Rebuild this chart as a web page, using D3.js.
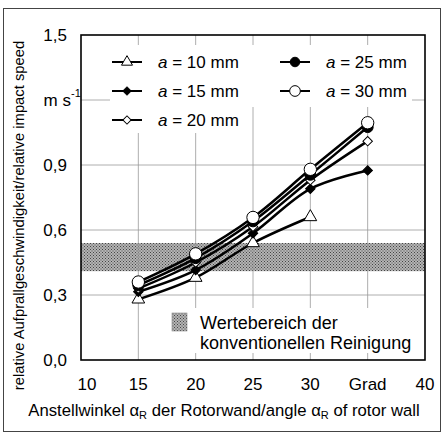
<!DOCTYPE html>
<html>
<head>
<meta charset="utf-8">
<script src="https://cdn.jsdelivr.net/npm/d3@7"></script>
<style>
body { margin: 0; background: #fff; }
text { font-family: "Liberation Sans", Arial, Helvetica, sans-serif; fill: #000; }
</style>
</head>
<body>
<script>
// data
const angles = [15, 20, 25, 30, 35];
const a10 = [0.28, 0.38, 0.54, 0.66];
const a15 = [0.315, 0.415, 0.585, 0.79, 0.875];
const a20 = [0.33, 0.45, 0.615, 0.83, 1.01];
const a25 = [0.345, 0.47, 0.64, 0.855, 1.075];
const a30 = [0.36, 0.49, 0.658, 0.88, 1.095];
const seriesNames = ["10 mm", "15 mm", "20 mm", "25 mm", "30 mm"];
const xTicks = [10, 15, 20, 25, 30, 35, 40];
const xTickLabels = ["10", "15", "20", "25", "30", "Grad", "40"];
const yTicks = [0, 0.3, 0.6, 0.9, 1.2, 1.5];
const yTickLabels = ["0,0", "0,3", "0,6", "0,9", "m s", "1,5"];
const band = [0.41, 0.54];

const W = 445, H = 435;
const m = { left: 81, right: 20, top: 35, bottom: 75 };

const svg = d3.select('body')
    .append('svg')
    .attr('width', W)
    .attr('height', H);

const x = d3.scaleLinear().domain([10, 40]).range([m.left, W - m.right]);
const y = d3.scaleLinear().domain([0, 1.5]).range([H - m.bottom, m.top]);

// stipple pattern for the band
const defs = svg.append('defs');
const pat = defs.append('pattern')
    .attr('id', 'stip')
    .attr('width', 3).attr('height', 3)
    .attr('patternUnits', 'userSpaceOnUse');
pat.append('rect').attr('width', 3).attr('height', 3).attr('fill', '#b4b4b4');
pat.append('rect').attr('width', 1).attr('height', 1).attr('fill', '#444');
pat.append('rect').attr('x', 1.5).attr('y', 1.5).attr('width', 1).attr('height', 1).attr('fill', '#444');

// outer frame
svg.append('rect')
    .attr('x', 3.5).attr('y', 8.5)
    .attr('width', 437).attr('height', 423)
    .attr('fill', 'none')
    .attr('stroke', '#444')
    .attr('stroke-width', 1);

// band
svg.append('rect')
    .attr('x', x(10)).attr('y', y(band[1]))
    .attr('width', x(40) - x(10))
    .attr('height', y(band[0]) - y(band[1]))
    .attr('fill', 'url(#stip)');

// grid
svg.append('g')
    .selectAll('line')
    .data(yTicks.slice(1, -1))
    .join('line')
    .attr('x1', x(10)).attr('x2', x(40))
    .attr('y1', d => y(d)).attr('y2', d => y(d))
    .attr('stroke', '#999').attr('stroke-width', 0.8);
svg.append('g')
    .selectAll('line')
    .data(xTicks.slice(1, -1))
    .join('line')
    .attr('x1', d => x(d)).attr('x2', d => x(d))
    .attr('y1', y(0)).attr('y2', y(1.5))
    .attr('stroke', '#999').attr('stroke-width', 0.8);

// white boxes behind legends
const legBg = svg.append('g').attr('fill', '#fff');
legBg.append('rect').attr('x', 110).attr('y', 45).attr('width', 302).attr('height', 62);
legBg.append('rect').attr('x', 110).attr('y', 100).attr('width', 135).attr('height', 33);
legBg.append('rect').attr('x', 166).attr('y', 308).attr('width', 258).attr('height', 45);

// symbols
const sym = {
    tri: { type: d3.symbolTriangle, size: 70, fill: '#fff', rot: 0 },
    dia: { type: d3.symbolSquare, size: 45, fill: '#000', rot: 45 },
    odia: { type: d3.symbolSquare, size: 45, fill: '#fff', rot: 45 },
    dot: { type: d3.symbolCircle, size: 95, fill: '#000', rot: 0 },
    circ: { type: d3.symbolCircle, size: 120, fill: '#fff', rot: 0 }
};
const series = [
    { name: seriesNames[0], values: a10, s: sym.tri },
    { name: seriesNames[1], values: a15, s: sym.dia },
    { name: seriesNames[2], values: a20, s: sym.odia },
    { name: seriesNames[3], values: a25, s: sym.dot },
    { name: seriesNames[4], values: a30, s: sym.circ }
];

const line = d3.line()
    .x((d, i) => x(angles[i]))
    .y(d => y(d))
    .curve(d3.curveCatmullRom.alpha(0.5));

series.forEach(sr => {
    const g = svg.append('g');
    g.append('path')
        .attr('d', line(sr.values))
        .attr('fill', 'none')
        .attr('stroke', '#000')
        .attr('stroke-width', 2.5);
    g.selectAll('path.pt')
        .data(sr.values)
        .join('path')
        .attr('class', 'pt')
        .attr('d', d3.symbol().type(sr.s.type).size(sr.s.size))
        .attr('transform', (d, i) => `translate(${x(angles[i])},${y(d)}) rotate(${sr.s.rot})`)
        .attr('fill', sr.s.fill)
        .attr('stroke', '#000')
        .attr('stroke-width', 1);
});

// plot frame
svg.append('rect')
    .attr('x', x(10)).attr('y', y(1.5))
    .attr('width', x(40) - x(10))
    .attr('height', y(0) - y(1.5))
    .attr('fill', 'none')
    .attr('stroke', '#000')
    .attr('stroke-width', 1.6);

// legend for series
const legPos = [[112, 62], [112, 91], [112, 120], [280, 62], [280, 91]];
series.forEach((sr, i) => {
    const [lx, ly] = legPos[i];
    const g = svg.append('g').attr('transform', `translate(${lx},${ly})`);
    g.append('line').attr('x1', 0).attr('x2', 30).attr('y1', 0).attr('y2', 0)
        .attr('stroke', '#000').attr('stroke-width', 2);
    g.append('path')
        .attr('d', d3.symbol().type(sr.s.type).size(sr.s.size * 0.75))
        .attr('transform', `translate(15,0) rotate(${sr.s.rot})`)
        .attr('fill', sr.s.fill)
        .attr('stroke', '#000')
        .attr('stroke-width', 1);
    const t = g.append('text').attr('x', 46).attr('y', 6).style('font-size', '17px');
    t.append('tspan').style('font-style', 'italic').text('a');
    t.append('tspan').text(' = ' + sr.name);
});

// band legend
svg.append('rect')
    .attr('x', 172).attr('y', 313)
    .attr('width', 15).attr('height', 18)
    .attr('fill', 'url(#stip)')
    .attr('stroke', '#888').attr('stroke-width', 0.6);
svg.append('text').attr('x', 200).attr('y', 329).style('font-size', '18px').text('Wertebereich der');
svg.append('text').attr('x', 200).attr('y', 349).style('font-size', '18px').text('konventionellen Reinigung');

// tick labels
svg.append('g')
    .selectAll('text')
    .data(xTicks)
    .join('text')
    .attr('x', (d, i) => x(d) + (i === 0 ? 6 : 0))
    .attr('y', 390)
    .attr('text-anchor', 'middle')
    .style('font-size', '17px')
    .text((d, i) => xTickLabels[i]);

svg.append('g')
    .selectAll('text')
    .data(yTicks)
    .join('text')
    .attr('x', (d, i) => yTickLabels[i] === 'm s' ? 71 : 67)
    .attr('y', d => y(d) + 6)
    .attr('text-anchor', 'end')
    .style('font-size', '17px')
    .text((d, i) => yTickLabels[i]);
svg.append('text')
    .attr('x', 71).attr('y', y(1.2) - 3)
    .style('font-size', '11px')
    .text('-1');

// axis titles
const xt = svg.append('text')
    .attr('x', 224).attr('y', 416)
    .attr('text-anchor', 'middle')
    .style('font-size', '16.7px');
xt.append('tspan').text('Anstellwinkel α');
xt.append('tspan').attr('dy', 3).style('font-size', '11px').text('R');
xt.append('tspan').attr('dy', -3).text(' der Rotorwand/angle α');
xt.append('tspan').attr('dy', 3).style('font-size', '11px').text('R');
xt.append('tspan').attr('dy', -3).text(' of rotor wall');

svg.append('text')
    .attr('transform', `translate(24,${(28 + 403) / 2}) rotate(-90)`)
    .attr('text-anchor', 'middle')
    .style('font-size', '14.8px')
    .text('relative Aufprallgeschwindigkeit/relative impact speed');
</script>
</body>
</html>
